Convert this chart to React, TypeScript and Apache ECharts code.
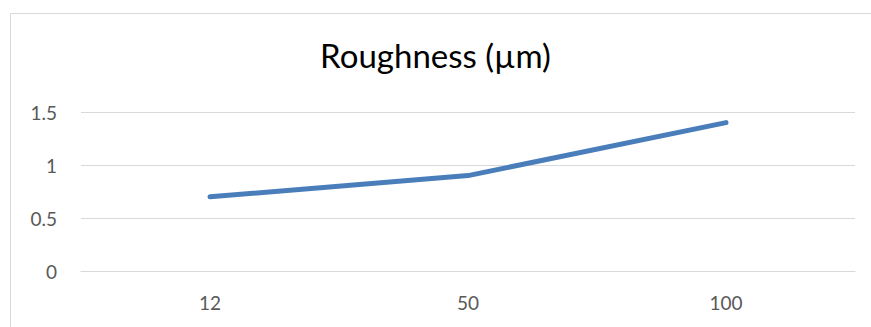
import React, { useEffect, useRef } from "react";
import * as echarts from "echarts";

const categories = ["12", "50", "100"];
const roughness = [0.7, 0.9, 1.4];
const yTicks = { min: 0, max: 1.5, interval: 0.5 };
const titleText = "Roughness (µm)";

export default function App() {
  const ref = useRef<HTMLDivElement>(null);
  useEffect(() => {
    if (!ref.current) return;
    const chart = echarts.init(ref.current, null, { renderer: "svg" });
    chart.setOption({
      animation: false,
      backgroundColor: "#ffffff",
      title: {
        text: titleText,
        left: "center",
        top: 33,
        textStyle: {
          fontFamily: "Lato",
          fontSize: 33,
          fontWeight: "normal",
          color: "#000000",
        },
      },
      graphic: [
        {
          type: "rect",
          shape: { x: 10.5, y: 13.5, width: 900, height: 400 },
          style: { fill: "none", stroke: "#d9d9d9", lineWidth: 1 },
          silent: true,
        },
      ],
      grid: { left: 81, right: 16, top: 112, bottom: 56 },
      xAxis: {
        type: "category",
        data: categories,
        boundaryGap: true,
        axisLine: { show: true, lineStyle: { color: "#d9d9d9", width: 1 } },
        axisTick: { show: false },
        axisLabel: {
          color: "#595959",
          fontFamily: "Lato",
          fontSize: 19,
          margin: 22,
        },
      },
      yAxis: {
        type: "value",
        min: yTicks.min,
        max: yTicks.max,
        interval: yTicks.interval,
        axisLine: { show: false },
        axisTick: { show: false },
        splitLine: { lineStyle: { color: "#d9d9d9", width: 1 } },
        axisLabel: {
          color: "#595959",
          fontFamily: "Lato",
          fontSize: 19,
          margin: 24,
        },
      },
      series: [
        {
          type: "line",
          data: roughness,
          symbol: "none",
          lineStyle: { color: "#4A7EBB", width: 5, cap: "round", join: "round" },
        },
      ],
    });
    return () => chart.dispose();
  }, []);
  return (
    <div
      ref={ref}
      style={{ position: "fixed", left: 0, top: 0, width: 871, height: 327 }}
    />
  );
}
